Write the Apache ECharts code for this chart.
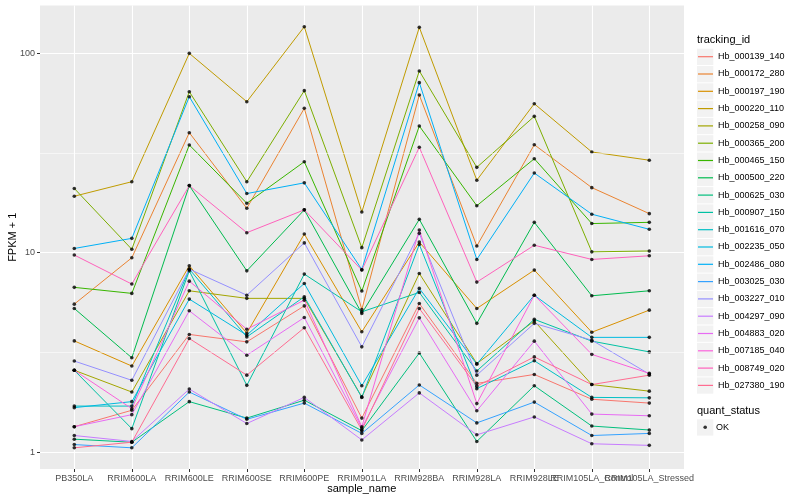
<!DOCTYPE html>
<html><head><meta charset="utf-8">
<script src="https://cdn.jsdelivr.net/npm/echarts@6/dist/echarts.min.js"></script>
<style>html,body{margin:0;padding:0;background:#fff}#c{width:800px;height:500px}</style>
</head><body><div id="c"></div>
<script>
// ---------- data ----------
const categories = ['PB350LA','RRIM600LA','RRIM600LE','RRIM600SE','RRIM600PE','RRIM901LA','RRIM928BA','RRIM928LA','RRIM928LE','RRIM105LA_Control','RRIM105LA_Stressed'];
const trackingIds = ['Hb_000139_140','Hb_000172_280','Hb_000197_190','Hb_000220_110','Hb_000258_090','Hb_000365_200','Hb_000465_150','Hb_000500_220','Hb_000625_030','Hb_000907_150','Hb_001616_070','Hb_002235_050','Hb_002486_080','Hb_003025_030','Hb_003227_010','Hb_004297_090','Hb_004883_020','Hb_007185_040','Hb_008749_020','Hb_027380_190'];
const Hb_000139_140 = [1.34, 1.62, 3.89, 3.57, 5.41, 1.48, 5.56, 2.21, 2.45, 1.84, 1.76];
const Hb_000172_280 = [5.52, 9.43, 40.0, 16.7, 53.0, 5.19, 61.8, 10.8, 34.8, 21.2, 15.7];
const Hb_000197_190 = [3.61, 2.70, 8.60, 3.95, 12.4, 4.01, 11.3, 5.25, 8.18, 3.99, 5.15];
const Hb_000220_110 = [19.2, 22.7, 100, 57.2, 136, 16.0, 135, 23.1, 55.9, 32.0, 29.1];
const Hb_000258_090 = [2.57, 2.00, 6.44, 5.90, 5.90, 1.89, 7.87, 2.78, 4.54, 2.18, 2.02];
const Hb_000365_200 = [21.0, 10.4, 64.2, 22.7, 65.0, 10.6, 81.6, 26.8, 48.3, 10.1, 10.2];
const Hb_000465_150 = [6.70, 6.25, 34.7, 17.7, 28.6, 6.42, 43.2, 17.2, 29.6, 14.0, 14.2];
const Hb_000500_220 = [5.25, 2.97, 21.7, 8.11, 16.4, 4.96, 14.7, 4.42, 14.2, 6.08, 6.44];
const Hb_000625_030 = [1.16, 1.12, 1.79, 1.48, 1.82, 1.28, 3.14, 1.13, 2.15, 1.35, 1.29];
const Hb_000907_150 = [2.57, 1.31, 8.11, 2.16, 7.81, 5.05, 6.32, 2.55, 4.63, 3.60, 3.18];
const Hb_001616_070 = [1.70, 1.70, 8.27, 3.78, 6.01, 1.88, 11.0, 2.08, 2.87, 1.88, 1.87];
const Hb_002235_050 = [1.67, 1.79, 5.85, 3.86, 7.01, 2.15, 6.62, 2.76, 6.12, 3.76, 3.76];
const Hb_002486_080 = [10.5, 11.8, 60.6, 19.8, 22.4, 8.23, 71.3, 9.25, 25.1, 15.6, 13.1];
const Hb_003025_030 = [1.09, 1.05, 2.00, 1.46, 1.76, 1.24, 2.17, 1.40, 1.78, 1.21, 1.24];
const Hb_003227_010 = [2.86, 2.29, 8.27, 6.12, 11.2, 3.37, 12.5, 2.43, 4.42, 3.64, 2.46];
const Hb_004297_090 = [1.21, 1.13, 2.07, 1.39, 1.88, 1.15, 1.98, 1.22, 1.50, 1.10, 1.08];
const Hb_004883_020 = [1.34, 1.54, 5.11, 3.06, 4.73, 1.32, 4.71, 1.61, 3.60, 1.55, 1.52];
const Hb_007185_040 = [2.57, 1.65, 7.20, 4.13, 5.78, 1.34, 13.0, 1.75, 6.12, 3.09, 2.48];
const Hb_008749_020 = [9.73, 6.96, 21.7, 12.6, 16.4, 8.18, 33.8, 7.12, 10.9, 9.25, 9.65];
const Hb_027380_190 = [1.05, 1.12, 3.71, 2.43, 4.20, 1.29, 5.25, 2.14, 3.00, 2.18, 2.43];
const seriesValues = [Hb_000139_140, Hb_000172_280, Hb_000197_190, Hb_000220_110, Hb_000258_090, Hb_000365_200, Hb_000465_150, Hb_000500_220, Hb_000625_030, Hb_000907_150, Hb_001616_070, Hb_002235_050, Hb_002486_080, Hb_003025_030, Hb_003227_010, Hb_004297_090, Hb_004883_020, Hb_007185_040, Hb_008749_020, Hb_027380_190];
const yTickLabels = [1, 10, 100];
const yMinorLines = [3.1623, 31.623];
const quantStatus = ['OK'];

// ---------- style ----------
const palette = ['#F8766D','#EA8331','#D89000','#C09B00','#A3A500','#7CAE00','#39B600','#00BB4E','#00BF7D','#00C1A3','#00BFC4','#00BAE0','#00B0F6','#35A2FF','#9590FF','#C77CFF','#E76BF3','#FA62DB','#FF62BC','#FF6C91'];
const FONT = '"Liberation Sans", Arial, Helvetica, sans-serif';
const yMin = 0.822, yMax = 173.8;

const chart = echarts.init(document.getElementById('c'), null, {renderer: 'canvas'});

const lineSeries = trackingIds.map((id, i) => ({
  name: id, type: 'line', xAxisIndex: 1, yAxisIndex: 1,
  data: seriesValues[i], symbol: 'none', showSymbol: false,
  lineStyle: {width: 1, color: palette[i]}, itemStyle: {color: palette[i]},
  clip: false, z: 3, silent: true, animation: false
}));

const points = [];
seriesValues.forEach(vals => vals.forEach((v, j) => points.push([j, v])));

const keyBoxes = trackingIds.map((id, i) => ({
  type: 'rect', shape: {x: 697, y: 48.7 + i * 17.3, width: 16.3, height: 16.3},
  style: {fill: '#F2F2F2'}, z: 1, silent: true
}));
keyBoxes.push({type: 'rect', shape: {x: 697, y: 419.3, width: 16.3, height: 16.3}, style: {fill: '#F2F2F2'}, z: 1, silent: true});

chart.setOption({
  animation: false,
  backgroundColor: '#fff',
  color: palette,
  textStyle: {fontFamily: FONT},
  title: [
    {text: 'tracking_id', left: 697, top: 34, padding: 0, textStyle: {fontSize: 11, fontWeight: 'normal', color: '#000', fontFamily: FONT}},
    {text: 'quant_status', left: 697, top: 405, padding: 0, textStyle: {fontSize: 11, fontWeight: 'normal', color: '#000', fontFamily: FONT}}
  ],
  graphic: keyBoxes,
  legend: [
    {orient: 'vertical', left: 698, top: 48.2, padding: 0, itemGap: 0.3, itemWidth: 15, itemHeight: 1.2, icon: 'rect',
     data: trackingIds, selectedMode: false, z: 4,
     textStyle: {color: '#000', fontSize: 9, lineHeight: 17, fontFamily: FONT}},
    {orient: 'vertical', left: 703.4, top: 418.8, padding: 0, itemWidth: 3.6, itemHeight: 3.6, icon: 'circle',
     data: quantStatus, selectedMode: false, z: 4,
     textStyle: {color: '#000', fontSize: 9, lineHeight: 17, padding: [0, 0, 0, 4], fontFamily: FONT}}
  ],
  grid: [
    {left: 40, top: 5.5, width: 644, height: 463.5, show: true, backgroundColor: '#EBEBEB', borderWidth: 0, z: 0,
     containLabel: false, outerBoundsMode: 'none'},
    {left: 74.3, top: 5.5, width: 575, height: 463.5, show: false, containLabel: false, outerBoundsMode: 'none'}
  ],
  xAxis: [
    {type: 'value', gridIndex: 0, min: 0, max: 1, show: false},
    {type: 'category', gridIndex: 1, data: categories, boundaryGap: false, z: 1,
     axisLine: {show: false},
     axisTick: {show: true, length: 3, interval: 0, lineStyle: {color: '#333', width: 1}},
     axisLabel: {color: '#4D4D4D', fontSize: 9, margin: 5, interval: 0, hideOverlap: false, fontFamily: FONT},
     splitLine: {show: true, interval: 0, lineStyle: {color: '#fff', width: 1.1}},
     name: 'sample_name', nameLocation: 'middle', nameGap: 14.5, nameMoveOverlap: false,
     nameTextStyle: {color: '#000', fontSize: 11, fontFamily: FONT}}
  ],
  yAxis: [
    {type: 'log', logBase: 10, gridIndex: 0, min: yMin, max: yMax, z: 1,
     axisLine: {show: false},
     axisTick: {show: true, length: 3, lineStyle: {color: '#333', width: 1}, customValues: yTickLabels},
     axisLabel: {color: '#4D4D4D', fontSize: 9, margin: 5, customValues: yTickLabels, fontFamily: FONT,
                 formatter: v => String(Math.round(v))},
     splitLine: {show: true, lineStyle: {color: '#fff', width: 1.1}},
     name: 'FPKM + 1', nameLocation: 'middle', nameGap: 22, nameMoveOverlap: false,
     nameTextStyle: {color: '#000', fontSize: 11, fontFamily: FONT}},
    {type: 'log', logBase: 10, gridIndex: 1, min: yMin, max: yMax, show: false}
  ],
  series: [
    {name: '_minor', type: 'line', xAxisIndex: 0, yAxisIndex: 0, data: [[0, 1], [1, 1]], symbol: 'none',
     lineStyle: {opacity: 0}, silent: true, z: 1,
     markLine: {silent: true, symbol: ['none', 'none'], label: {show: false}, animation: false,
                lineStyle: {color: '#fff', width: 0.55, type: 'solid'},
                data: yMinorLines.map(v => ({yAxis: v}))}},
    ...lineSeries,
    {name: 'OK', type: 'scatter', xAxisIndex: 1, yAxisIndex: 1, data: points, symbol: 'circle', symbolSize: 3.6,
     itemStyle: {color: '#000'}, clip: false, z: 4, silent: true}
  ]
});
</script></body></html>
